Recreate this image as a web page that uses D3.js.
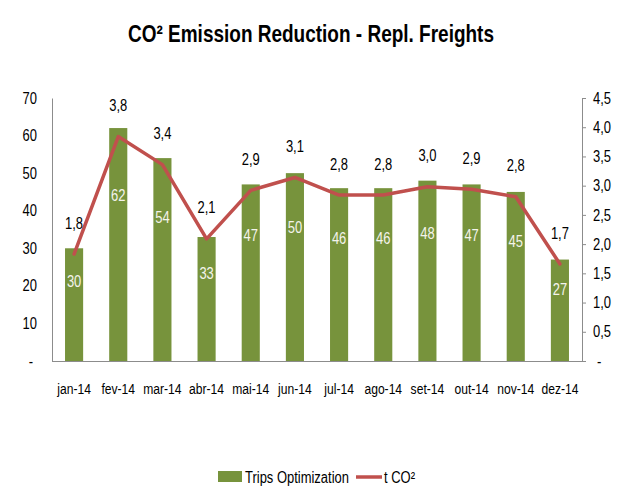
<!DOCTYPE html>
<html>
<head>
<meta charset="utf-8">
<script src="https://cdn.jsdelivr.net/npm/d3@7/dist/d3.min.js"></script>
<style>
  html, body { margin: 0; padding: 0; background: #fff; }
  svg { display: block; }
  text { font-family: "Liberation Sans", Arial, sans-serif; }
</style>
</head>
<body>
<svg id="chart" width="622" height="502"></svg>
<script>
const months = ["jan-14","fev-14","mar-14","abr-14","mai-14","jun-14","jul-14","ago-14","set-14","out-14","nov-14","dez-14"];
const trips = [30, 62, 54, 33, 47, 50, 46, 46, 48, 47, 45, 27];
const tco2 = [1.83, 3.84, 3.36, 2.09, 2.92, 3.14, 2.84, 2.84, 2.98, 2.94, 2.81, 1.66];
const leftTicks = [0, 10, 20, 30, 40, 50, 60, 70];
const rightTicks = [0, 0.5, 1.0, 1.5, 2.0, 2.5, 3.0, 3.5, 4.0, 4.5];
const title = "CO² Emission Reduction - Repl. Freights";
const seriesNames = ["Trips Optimization", "t CO²"];

const green = "#77933C", red = "#C0504D", axisColor = "#8C8C8C";
const svg = d3.select("#chart");
const plot = { left: 52, right: 582, top: 98, bottom: 361 };
const squeeze = 0.81;

function compress(sel, factor) {
  sel.each(function () {
    const w = this.getComputedTextLength();
    d3.select(this).attr("textLength", w * factor).attr("lengthAdjust", "spacingAndGlyphs");
  });
}

const x = d3.scaleBand().domain(months).range([plot.left, plot.right])
  .paddingInner(0.59).paddingOuter(0.295);
const yL = d3.scaleLinear().domain([0, 70]).range([plot.bottom, plot.top]);
const yR = d3.scaleLinear().domain([0, 4.5]).range([plot.bottom, plot.top]);
const fmtComma = d => d === 0 ? "-" : d3.format(".1f")(d).replace(".", ",");

// Title
svg.append("text").attr("x", 311).attr("y", 42).attr("text-anchor", "middle")
  .attr("font-size", 24).attr("font-weight", "bold").attr("fill", "#000").text(title)
  .attr("textLength", 366).attr("lengthAdjust", "spacingAndGlyphs");

// Left axis
const gL = svg.append("g").attr("transform", `translate(${plot.left},0)`)
  .call(d3.axisLeft(yL).tickValues(leftTicks).tickSize(0).tickPadding(15)
    .tickFormat(d => d === 0 ? "-" : d));
gL.select(".domain").attr("stroke", axisColor);
gL.selectAll("text").attr("font-size", 16).attr("fill", "#000").attr("font-family", null);
gL.selectAll(".tick").filter(d => d === 0).select("text").attr("dx", -4);
compress(gL.selectAll("text"), squeeze);

// Right axis
const gR = svg.append("g").attr("transform", `translate(${plot.right},0)`)
  .call(d3.axisRight(yR).tickValues(rightTicks).tickSizeInner(4).tickSizeOuter(0).tickPadding(7)
    .tickFormat(fmtComma));
gR.select(".domain").attr("stroke", axisColor);
gR.selectAll("line").attr("stroke", axisColor);
gR.selectAll("text").attr("font-size", 16).attr("fill", "#000").attr("font-family", null);
gR.selectAll(".tick").filter(d => d === 0).select("text").attr("dx", 4);
compress(gR.selectAll("text"), squeeze);

// Bottom axis
const gB = svg.append("g").attr("transform", `translate(0,${plot.bottom})`)
  .call(d3.axisBottom(x).tickSize(0).tickPadding(22));
gB.select(".domain").attr("stroke", axisColor).attr("d", `M${plot.left},0.5H${plot.right}`);
gB.selectAll("text").attr("font-size", 15.5).attr("fill", "#000").attr("font-family", null);
compress(gB.selectAll("text"), 0.78);

// Bars
svg.append("g").selectAll("rect").data(trips).join("rect")
  .attr("x", (d, i) => x(months[i]))
  .attr("y", d => yL(d))
  .attr("width", x.bandwidth())
  .attr("height", d => yL(0) - yL(d))
  .attr("fill", green);

// Bar labels
const barLabels = svg.append("g").selectAll("text").data(trips).join("text")
  .attr("x", (d, i) => x(months[i]) + x.bandwidth() / 2)
  .attr("y", d => yL(d * 0.71))
  .attr("dy", "0.35em")
  .attr("text-anchor", "middle").attr("font-size", 16).attr("fill", "#F4F4EC")
  .text(d => d);
compress(barLabels, squeeze);

// Line
const line = d3.line()
  .x((d, i) => x(months[i]) + x.bandwidth() / 2)
  .y(d => yR(d));
svg.append("path").datum(tco2).attr("d", line)
  .attr("fill", "none").attr("stroke", red).attr("stroke-width", 3.5)
  .attr("stroke-linejoin", "round").attr("stroke-linecap", "round");

// Line labels
const lineLabels = svg.append("g").selectAll("text").data(tco2).join("text")
  .attr("x", (d, i) => x(months[i]) + x.bandwidth() / 2)
  .attr("y", d => yR(d) - 31)
  .attr("dy", "0.35em")
  .attr("text-anchor", "middle").attr("font-size", 16).attr("fill", "#000")
  .text(d => fmtComma(d));
compress(lineLabels, squeeze);

// Legend
const lg = svg.append("g");
lg.append("rect").attr("x", 218).attr("y", 471).attr("width", 24).attr("height", 11).attr("fill", green);
lg.append("text").attr("x", 245).attr("y", 477).attr("dy", "0.35em")
  .attr("font-size", 16).attr("fill", "#000").text(seriesNames[0]);
lg.append("line").attr("x1", 356).attr("x2", 382).attr("y1", 477).attr("y2", 477)
  .attr("stroke", red).attr("stroke-width", 3.5);
lg.append("text").attr("x", 384).attr("y", 477).attr("dy", "0.35em")
  .attr("font-size", 16).attr("fill", "#000").text(seriesNames[1]);
compress(lg.selectAll("text"), squeeze);
</script>
</body>
</html>
